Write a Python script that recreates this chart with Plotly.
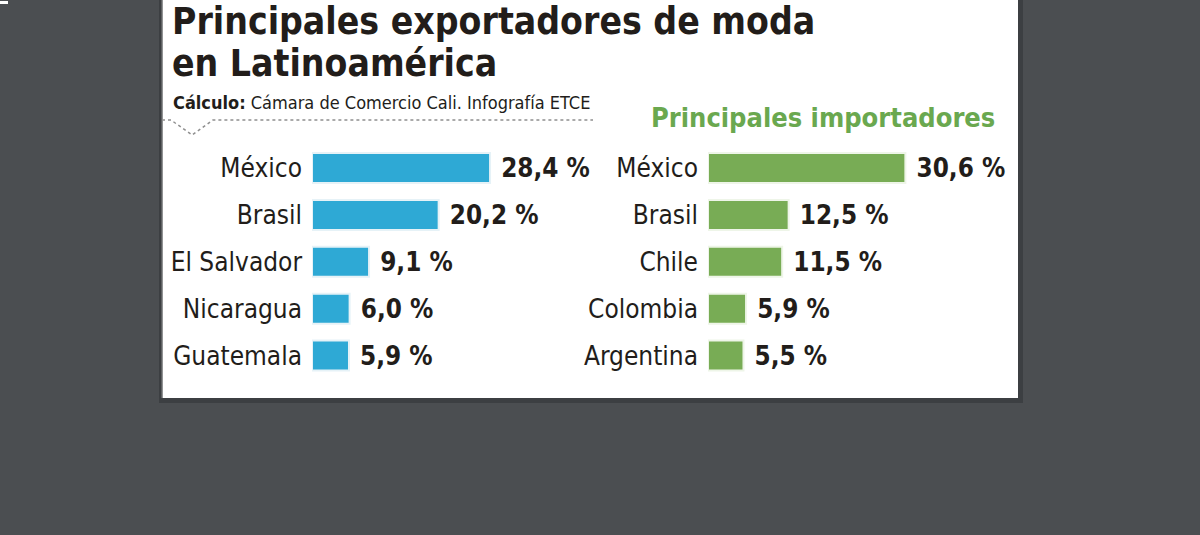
import plotly.graph_objects as go

# ── data read from the infographic ──
export_countries = ["México", "Brasil", "El Salvador", "Nicaragua", "Guatemala"]
export_share = [28.4, 20.2, 9.1, 6.0, 5.9]

import_countries = ["México", "Brasil", "Chile", "Colombia", "Argentina"]
import_share = [30.6, 12.5, 11.5, 5.9, 5.5]

title_lines = ["Principales exportadores de moda", "en Latinoamérica"]
source_bold = "Cálculo:"
source_text = "Cámara de Comercio Cali. Infografía ETCE"
import_title = "Principales importadores"

W, H = 1200, 535
NARROW = "Liberation Sans Narrow, DejaVu Sans Condensed, Arial Narrow, Roboto, sans-serif"
BLUE = "#2ea9d5"
GREEN = "#78ac55"
INK = "#221d1a"


def px(x):
    return x / W


def py(y):
    return 1 - y / H


def pct(values):
    return [" " + f"{v:.1f}".replace(".", ",") + " %" for v in values]


fig = go.Figure()

fig.add_trace(go.Bar(
    x=export_share, y=export_countries, orientation="h",
    marker=dict(color=BLUE, line=dict(color="#e6f2f7", width=2)),
    width=0.64, text=pct(export_share), textposition="outside",
    textfont=dict(family=NARROW, size=31, color=INK, weight="bold"),
    cliponaxis=False, xaxis="x", yaxis="y", hoverinfo="skip",
))
fig.add_trace(go.Bar(
    x=import_share, y=import_countries, orientation="h",
    marker=dict(color=GREEN, line=dict(color="#eef5e8", width=2)),
    width=0.64, text=pct(import_share), textposition="outside",
    textfont=dict(family=NARROW, size=31, color=INK, weight="bold"),
    cliponaxis=False, xaxis="x2", yaxis="y2", hoverinfo="skip",
))

# same pixel scale on both panels (~6.3 px per point)
y_dom = [py(379), py(144.6)]
axis_common = dict(showgrid=False, zeroline=False, showticklabels=False, showline=False)
ylab = dict(showgrid=False, zeroline=False, showline=False, ticks="",
            autorange="reversed", ticklabelstandoff=9,
            tickfont=dict(family=NARROW, size=26, color=INK))

fig.update_layout(
    width=W, height=H,
    margin=dict(l=0, r=0, t=0, b=0),
    paper_bgcolor="#4b4e51",
    plot_bgcolor="rgba(0,0,0,0)",
    showlegend=False,
    xaxis=dict(domain=[px(312), px(600)], range=[0, (600 - 312) / 6.27], **axis_common),
    yaxis=dict(domain=y_dom, anchor="x", **ylab),
    xaxis2=dict(domain=[px(708), px(1000)], range=[0, (1000 - 708) / 6.45], **axis_common),
    yaxis2=dict(domain=y_dom, anchor="x2", **ylab),
    shapes=[
        # panel shadow and white card
        dict(type="rect", xref="paper", yref="paper", layer="below",
             x0=px(159), x1=px(1023), y0=py(-5), y1=py(403),
             fillcolor="#3c3f42", line_width=0),
        dict(type="rect", xref="paper", yref="paper", layer="below",
             x0=px(162), x1=px(1018), y0=py(-5), y1=py(398),
             fillcolor="white", line_width=0),
        dict(type="line", xref="paper", yref="paper", layer="below",
             x0=px(162), x1=px(162), y0=py(0), y1=py(398),
             line=dict(color="#6d6f71", width=1.5)),
        # small white tick at the top-left corner
        dict(type="rect", xref="paper", yref="paper",
             x0=px(0), x1=px(8), y0=py(4), y1=py(1),
             fillcolor="white", line_width=0),
        # dotted rule with notch under the source line
        dict(type="path", xref="paper", yref="paper",
             path=(f"M {px(162)},{py(120)} L {px(171)},{py(120)} "
                   f"L {px(192)},{py(135)} L {px(213)},{py(120)} L {px(593)},{py(120)}"),
             line=dict(color="#8f8f8f", width=1.5, dash="dot")),
    ],
    annotations=[
        dict(text=title_lines[0], xref="paper", yref="paper", x=px(170), y=py(21),
             xanchor="left", yanchor="middle", showarrow=False,
             font=dict(family=NARROW, size=37, color=INK, weight="bold")),
        dict(text=title_lines[1], xref="paper", yref="paper", x=px(170), y=py(64),
             xanchor="left", yanchor="middle", showarrow=False,
             font=dict(family=NARROW, size=37, color=INK, weight="bold")),
        dict(text=f"<b>{source_bold}</b> {source_text}", xref="paper", yref="paper",
             x=px(171), y=py(103), xanchor="left", yanchor="middle", showarrow=False,
             font=dict(family=NARROW, size=18, color=INK)),
        dict(text=import_title, xref="paper", yref="paper", x=px(997), y=py(118),
             xanchor="right", yanchor="middle", showarrow=False,
             font=dict(family=NARROW, size=27, color="#6aa84f", weight="bold")),
    ],
)

fig.write_html("out.html", config={"displayModeBar": False},
               post_script="document.body.style.margin='0px';")
